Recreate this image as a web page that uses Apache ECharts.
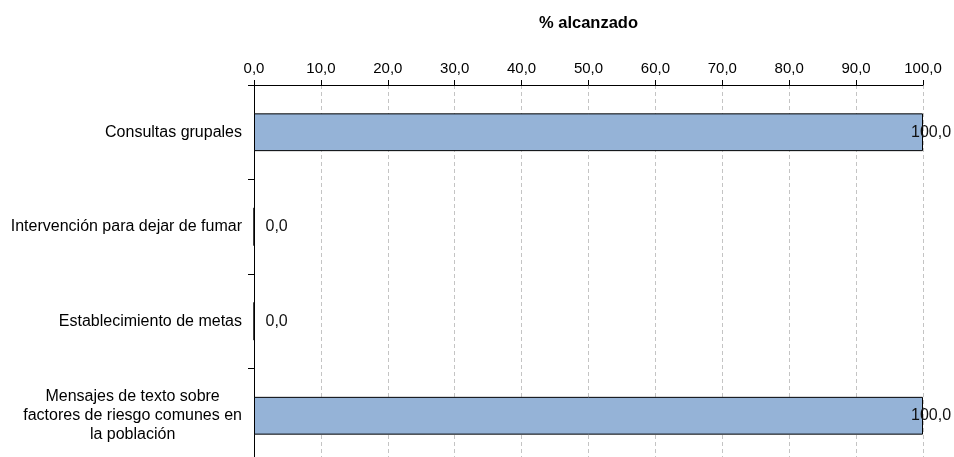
<!DOCTYPE html>
<html>
<head>
<meta charset="utf-8">
<script src="https://cdn.jsdelivr.net/npm/echarts@6/dist/echarts.min.js"></script>
<style>
  html, body { margin: 0; padding: 0; background: #fff; }
  #chart { width: 954px; height: 457px; }
</style>
</head>
<body>
<div id="chart"></div>
<script>
// Categories (top to bottom) and the share reached for each one
const categories = [
  'Consultas grupales',
  'Intervención para dejar de fumar',
  'Establecimiento de metas',
  'Mensajes de texto sobre\nfactores de riesgo comunes en\nla población'
];
const alcanzado = [100.0, 0.0, 0.0, 100.0];

const axisName = '% alcanzado';
const xMin = 0;
const xMax = 100;
const xStep = 10;

const FONT = '"Liberation Sans", Arial, sans-serif';
const fmt = v => Number(v).toFixed(1).replace('.', ',');

// Labels of full bars would run past the plot edge, so they sit back over the bar end
const barData = alcanzado.map(v =>
  v >= xMax ? { value: v, label: { offset: [-23, 0] } } : v
);

const chart = echarts.init(document.getElementById('chart'), null, { renderer: 'canvas' });

chart.setOption({
  animation: false,
  backgroundColor: '#ffffff',
  textStyle: { fontFamily: FONT },
  grid: {
    left: 254, right: 31, top: 85, height: 378,
    containLabel: false,
    outerBoundsMode: 'none'
  },
  xAxis: {
    type: 'value',
    position: 'top',
    min: xMin,
    max: xMax,
    interval: xStep,
    name: axisName,
    nameLocation: 'middle',
    nameGap: 53,
    nameTextStyle: { fontFamily: FONT, fontSize: 16.5, fontWeight: 'bold', color: '#000' },
    axisLine: { show: true, lineStyle: { color: '#000', width: 1 } },
    axisTick: { show: true, length: 5, lineStyle: { color: '#000' } },
    axisLabel: { formatter: fmt, fontFamily: FONT, fontSize: 15, color: '#000', margin: 9 },
    splitLine: { show: true, lineStyle: { color: '#c4c4c4', type: [4, 3], width: 1 } }
  },
  yAxis: {
    type: 'category',
    data: categories,
    inverse: true,
    boundaryGap: true,
    axisLine: { show: true, lineStyle: { color: '#000', width: 1 } },
    axisTick: { show: true, length: 6, interval: 0, lineStyle: { color: '#000' } },
    axisLabel: {
      interval: 0,
      margin: 12,
      fontFamily: FONT,
      fontSize: 16,
      color: '#000',
      lineHeight: 19,
      formatter: function (value) {
        const lines = value.split('\n');
        if (lines.length === 1) return value;
        return lines.map(l => '{c|' + l + '}').join('\n');
      },
      rich: {
        c: { align: 'center', fontFamily: FONT, fontSize: 16, lineHeight: 19, color: '#000' }
      }
    },
    splitLine: { show: false }
  },
  series: [{
    type: 'bar',
    data: barData,
    barWidth: '40%',
    itemStyle: { color: '#95B3D7', borderColor: '#000', borderWidth: 1 },
    label: {
      show: true,
      position: 'right',
      distance: 11,
      formatter: p => fmt(p.value),
      fontFamily: FONT,
      fontSize: 16,
      color: '#111'
    }
  }]
});
</script>
</body>
</html>
